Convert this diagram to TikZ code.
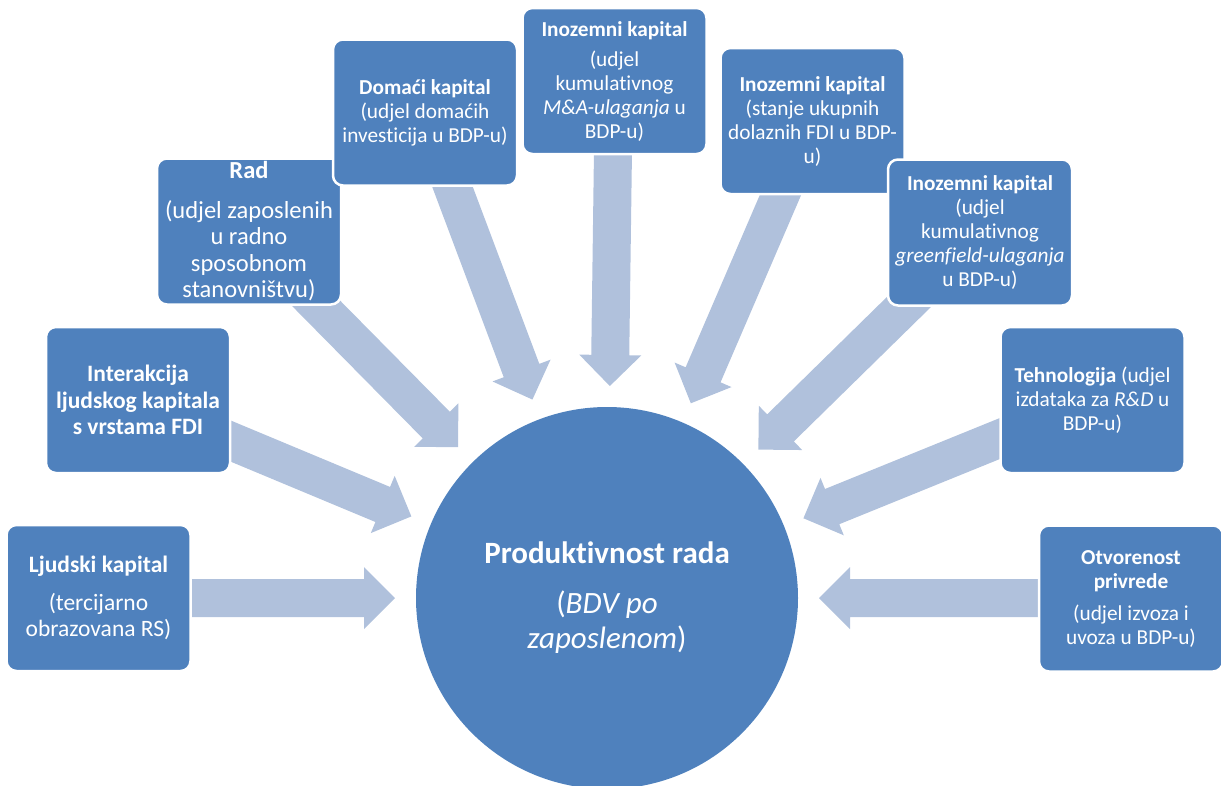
\documentclass[tikz,border=0pt]{standalone}
\usepackage{fontspec}
\setmainfont{Carlito}[Ligatures={NoCommon}]
\usetikzlibrary{calc}
\definecolor{boxblue}{HTML}{4F81BD}
\definecolor{arrowblue}{HTML}{B0C1DC}
\pgfdeclarelayer{bg}
\pgfsetlayers{bg,main}
\newcommand{\bigarrow}[2]{%
  \coordinate (hb) at ($(#2)!31pt!(#1)$);
  \fill[arrowblue] ($(#1)!19pt!90:(#2)$) -- ($(hb)!19pt!90:(#2)$) -- ($(hb)!31pt!90:(#2)$) -- (#2)
    -- ($(hb)!31pt!-90:(#2)$) -- ($(hb)!19pt!-90:(#2)$) -- ($(#1)!19pt!-90:(#2)$) -- cycle;
}
\begin{document}
\begin{tikzpicture}[x=1pt,y=-1pt,
  box/.style={rectangle, rounded corners=10pt, fill=boxblue, draw=white, line width=2.5pt,
    minimum width=184pt, minimum height=146pt, text=white, align=center, inner sep=0pt},
  bigtext/.style={font=\fontsize{23.5}{26.5}\selectfont},
  radtext/.style={font=\fontsize{24.5}{26.5}\selectfont},
  smalltext/.style={font=\fontsize{21.3}{24}\selectfont},
  hub/.style={circle, fill=boxblue, minimum size=382pt, inner sep=0pt, text=white,
    align=center, font=\fontsize{31}{35}\selectfont}]
\useasboundingbox (0,0) rectangle (1221,785);

\node[box,bigtext] (ljudski) at (98.5,598) {\textbf{Ljudski kapital}\\[11pt](tercijarno\\obrazovana RS)};
\node[box,bigtext] (interakcija) at (138,400) {\textbf{Interakcija}\\\textbf{ljudskog kapitala}\\\textbf{s vrstama FDI}};
\node[box,radtext] (rad) at (249,231.5) {\textbf{Rad}\\[13pt](udjel zaposlenih\\u radno\\sposobnom\\stanovništvu)};
\node[box,smalltext] (domaci) at (425,112.5) {\textbf{Domaći kapital}\\(udjel domaćih\\investicija u BDP-u)};
\node[box,smalltext] (ma) at (614.5,81) {\textbf{Inozemni kapital}\\[6pt](udjel\\kumulativnog\\\textit{M\&A-ulaganja} u\\BDP-u)};
\node[box,smalltext] (stanje) at (812.5,121) {\textbf{Inozemni kapital}\\(stanje ukupnih\\dolaznih FDI u BDP-\\u)};
\node[box,smalltext] (green) at (980,232.5) {\textbf{Inozemni kapital}\\(udjel\\kumulativnog\\\textit{greenfield-ulaganja}\\u BDP-u)};
\node[box,smalltext] (tech) at (1092.5,400) {\textbf{Tehnologija} (udjel\\izdataka za \textit{R\&D} u\\BDP-u)};
\node[box,smalltext] (otv) at (1131,598.5) {\textbf{Otvorenost}\\\textbf{privrede}\\[8pt](udjel izvoza i\\uvoza u BDP-u)};

\node[hub] (c) at (607,598) {\textbf{Produktivnost rada}\\[15pt](\textit{BDV po}\\\textit{zaposlenom})};

\coordinate (s1) at (183,598);
\coordinate (s2) at (219.3,436.3);
\coordinate (s3) at (300,287);
\coordinate (s4) at (446.8,171.7);
\coordinate (s5) at (613,150);
\coordinate (s6) at (789.3,174.5);
\coordinate (s7) at (928.3,283);
\coordinate (s8) at (1014.4,432.6);
\coordinate (s9) at (1047,598);
\foreach \i in {1,...,9} {
  \coordinate (t\i) at ($(c.center)!212pt!(s\i)$);
}
\begin{pgfonlayer}{bg}
  \foreach \i in {1,...,9} {\bigarrow{s\i}{t\i}}
\end{pgfonlayer}
\end{tikzpicture}
\end{document}
